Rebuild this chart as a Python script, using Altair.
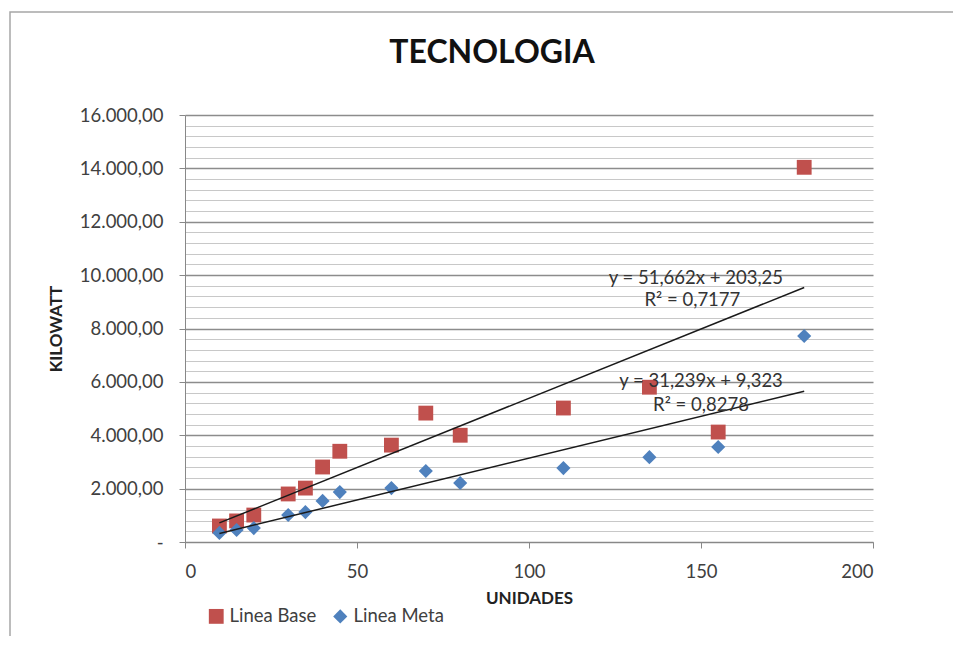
import altair as alt
import pandas as pd

# ---- data ----
unidades = [10, 15, 20, 30, 35, 40, 45, 60, 70, 80, 110, 135, 155, 180]
linea_base = [600, 790, 1010, 1800, 2020, 2810, 3400, 3630, 4830, 4000, 5020, 5800, 4120, 14040]
linea_meta = [340, 450, 520, 1010, 1120, 1540, 1870, 2020, 2660, 2210, 2770, 3180, 3560, 7720]
series = ["Linea Base", "Linea Meta"]

eq_labels = ["y = 51,662x + 203,25", "R\u00b2 = 0,7177", "y = 31,239x + 9,323", "R\u00b2 = 0,8278"]
eq_x = [148.5, 147.5, 150, 150]
eq_y = [9900, 9080, 6050, 5150]

rows = []
for s, vals in zip(series, [linea_base, linea_meta]):
    for x, y in zip(unidades, vals):
        rows.append({"UNIDADES": x, "KILOWATT": y, "serie": s})
df = pd.DataFrame(rows)
eq_df = pd.DataFrame({"x": eq_x, "y": eq_y, "label": eq_labels})

FONT = "Lato"
TXT = "#404040"
FS = 18.5

x_scale = alt.Scale(domain=[0, 200], nice=False)
y_scale = alt.Scale(domain=[0, 16000], nice=False)

x_enc = alt.X(
    "UNIDADES:Q", scale=x_scale, title="UNIDADES",
    axis=alt.Axis(values=[0, 50, 100, 150, 200], grid=False, tickSize=6,
                  labelPadding=14, labelFontSize=FS, titleFontSize=17,
                  titleFontWeight="bold", titlePadding=10,
                  domainColor="#888888", tickColor="#888888",
                  labelColor=TXT, titleColor="#222222"),
)
y_vals = list(range(0, 16001, 400))
y_enc = alt.Y(
    "KILOWATT:Q", scale=y_scale, title="KILOWATT",
    axis=alt.Axis(
        values=y_vals, tickCount=60,
        labelExpr="datum.value % 2000 !== 0 ? '' : (datum.value === 0 ? '-\u00a0\u00a0\u00a0\u00a0' : "
                  "replace(replace(replace(format(datum.value, ',.2f'), ',', '#'), '.', ','), '#', '.'))",
        gridColor={"condition": {"test": "datum.value % 2000 === 0", "value": "#8c8c8c"}, "value": "#c8c8c8"},
        gridWidth={"condition": {"test": "datum.value % 2000 === 0", "value": 1.3}, "value": 1},
        tickOpacity={"condition": {"test": "datum.value % 2000 === 0", "value": 1}, "value": 0},
        tickSize=6, labelPadding=16, labelFontSize=FS, titleFontSize=17,
        titleFontWeight="bold", titlePadding=14,
        domainColor="#888888", tickColor="#888888",
        labelColor=TXT, titleColor="#222222", labelOverlap=False,
    ),
)

points = alt.Chart(df).mark_point(filled=True, opacity=1).encode(
    x=x_enc,
    y=y_enc,
    color=alt.Color("serie:N", scale=alt.Scale(domain=series, range=["#C0504D", "#4F81BD"]),
                    legend=alt.Legend(title=None, orient="none", legendX=22, legendY=492,
                                      direction="horizontal", labelFontSize=FS, labelColor=TXT,
                                      symbolSize=140, columnPadding=14, labelOffset=4,
                                      labelFont=FONT)),
    shape=alt.Shape("serie:N", scale=alt.Scale(domain=series, range=["square", "diamond"]), legend=None),
    size=alt.Size("serie:N", scale=alt.Scale(domain=series, range=[220, 200]), legend=None),
)

trend = alt.Chart(df).transform_regression(
    "UNIDADES", "KILOWATT", groupby=["serie"], extent=[10, 180]
).mark_line(color="#1a1a1a", strokeWidth=1.5).encode(
    x=alt.X("UNIDADES:Q", scale=x_scale),
    y=alt.Y("KILOWATT:Q", scale=y_scale),
    detail="serie:N",
)

eqs = alt.Chart(eq_df).mark_text(fontSize=FS, color="#333333", font=FONT).encode(
    x=alt.X("x:Q", scale=x_scale),
    y=alt.Y("y:Q", scale=y_scale),
    text="label:N",
)

frame = alt.Chart(pd.DataFrame({"a": [0]})).mark_rect(
    fill=None, stroke="#a6a6a6", strokeWidth=1.5
).encode(
    x=alt.value(-175), x2=alt.value(790), y=alt.value(-103), y2=alt.value(560)
)

chart = alt.layer(frame, points, trend, eqs).properties(
    width=688, height=427,
    title=alt.Title("TECNOLOGIA", fontSize=32, fontWeight="bold", font=FONT,
                    color="#111111", offset=0, dy=59, dx=-37),
    autosize=alt.AutoSizeParams(type="none"),
    padding={"left": 177, "top": 107, "right": 80, "bottom": 94},
).configure(font=FONT).configure_view(stroke=None).configure_axis(labelFont=FONT, titleFont=FONT)

chart.save("out.html", embed_options={"renderer": "svg", "actions": False})
